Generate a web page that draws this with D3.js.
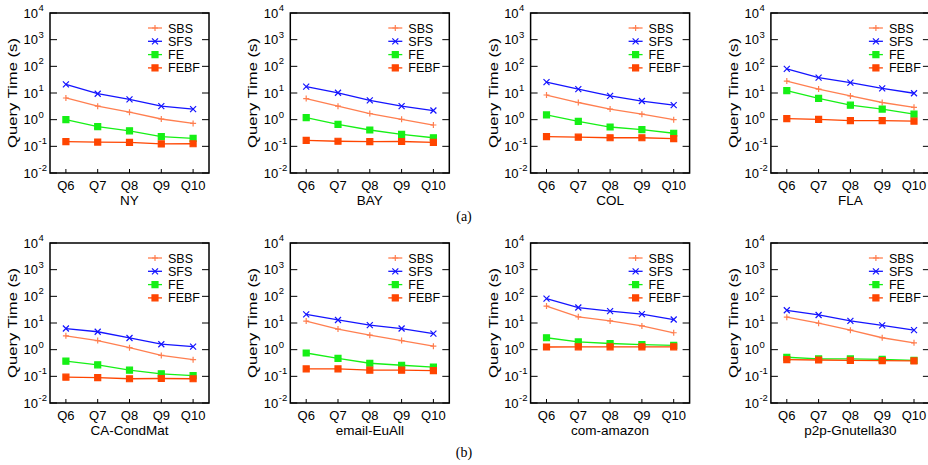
<!DOCTYPE html>
<html>
<head>
<meta charset="utf-8">
<script src="https://cdn.jsdelivr.net/npm/d3@7"></script>
<style>
  body { margin: 0; background: #fff; }
  svg { display: block; font-family: "Liberation Sans", Arial, sans-serif; }
</style>
</head>
<body>
<div id="chart"></div>
<script>
const categories = ["Q6", "Q7", "Q8", "Q9", "Q10"];
const datasets = ["NY", "BAY", "COL", "FLA", "CA-CondMat", "email-EuAll", "com-amazon", "p2p-Gnutella30"];
const seriesNames = ["SBS", "SFS", "FE", "FEBF"];
const yTicks = [-2, -1, 0, 1, 2, 3, 4];

// query time (s) per dataset, one array per method
const sbsTimes = [
  [6.5, 3.2, 1.9, 1.06, 0.72],
  [6.2, 3.2, 1.7, 1.03, 0.63],
  [8.4, 4.4, 2.5, 1.6, 1.0],
  [28, 14, 7.8, 4.4, 2.9],
  [3.3, 2.2, 1.19, 0.61, 0.42],
  [11.8, 5.9, 3.5, 2.2, 1.35],
  [43, 17, 12, 7.8, 4.3],
  [16.6, 9.8, 5.4, 2.8, 1.8],
];
const sfsTimes = [
  [21, 9.4, 5.8, 3.2, 2.5],
  [17.4, 10.2, 5.3, 3.2, 2.2],
  [25.7, 14, 7.8, 5.0, 3.5],
  [80, 37.6, 24.5, 15, 9.8],
  [6.2, 4.7, 2.75, 1.6, 1.3],
  [21, 13, 8.3, 6.2, 4.0],
  [82, 38, 28, 21.5, 13.5],
  [30, 20, 12, 8.1, 5.4],
];
const feTimes = [
  [1.0, 0.55, 0.38, 0.23, 0.2],
  [1.2, 0.67, 0.41, 0.28, 0.21],
  [1.5, 0.87, 0.53, 0.42, 0.31],
  [12.3, 6.3, 3.5, 2.5, 1.6],
  [0.37, 0.27, 0.17, 0.124, 0.107],
  [0.75, 0.47, 0.31, 0.26, 0.22],
  [2.8, 1.95, 1.7, 1.55, 1.45],
  [0.52, 0.45, 0.45, 0.43, 0.4],
];
const febfTimes = [
  [0.15, 0.145, 0.14, 0.123, 0.125],
  [0.168, 0.155, 0.15, 0.152, 0.14],
  [0.23, 0.22, 0.21, 0.21, 0.195],
  [1.1, 1.03, 0.92, 0.92, 0.88],
  [0.093, 0.09, 0.081, 0.083, 0.081],
  [0.19, 0.19, 0.17, 0.17, 0.165],
  [1.26, 1.28, 1.28, 1.28, 1.28],
  [0.42, 0.41, 0.4, 0.39, 0.38],
];
const seriesTimes = [sbsTimes, sfsTimes, feTimes, febfTimes];

const colors = ["#ff7f50", "#1414ff", "#16f016", "#ff4500"];

// marker shapes in gnuplot style: plus, cross, star, filled square
const markerPath = (i) => {
  const s = 3;
  if (i === 0) return `M${-s},0H${s}M0,${-s}V${s}`;
  if (i === 1) return `M${-s},${-s}L${s},${s}M${-s},${s}L${s},${-s}`;
  if (i === 2)
    return `M${-s},0H${s}M0,${-s}V${s}M${-s},${-s}L${s},${s}M${-s},${s}L${s},${-s}M${-s},${-s}H${s}V${s}H${-s}Z`;
  return `M${-s},${-s}H${s}V${s}H${-s}Z`;
};

const width = 928;
const height = 465;
const plotW = 159;
const plotH = 160;
const panelLeft = (col) => 50 + col * 240.3;
const panelTop = [13, 243];

const svg = d3
  .select("#chart")
  .append("svg")
  .attr("width", width)
  .attr("height", height);

const x = d3.scalePoint().domain(categories).range([0, plotW]).padding(0.5);
const y = d3.scaleLog().domain([0.01, 10000]).range([plotH, 0]);

const drawPanel = (idx) => {
  const row = Math.floor(idx / 4);
  const col = idx % 4;
  const g = svg
    .append("g")
    .attr("transform", `translate(${panelLeft(col)},${panelTop[row]})`);

  // y ticks on both sides, pointing inward
  yTicks.forEach((e) => {
    const yy = y(Math.pow(10, e));
    g.append("line")
      .attr("x1", 0).attr("x2", 7)
      .attr("y1", yy).attr("y2", yy)
      .attr("stroke", "#000");
    g.append("line")
      .attr("x1", plotW - 7).attr("x2", plotW)
      .attr("y1", yy).attr("y2", yy)
      .attr("stroke", "#000");
    g.append("text")
      .attr("x", -12)
      .attr("y", yy + 4.5)
      .attr("text-anchor", "end")
      .attr("font-size", 13)
      .text("10");
    g.append("text")
      .attr("x", -11.5)
      .attr("y", yy - 2)
      .attr("font-size", 9.5)
      .text(e);
  });

  // x ticks and labels
  categories.forEach((c) => {
    g.append("line")
      .attr("x1", x(c)).attr("x2", x(c))
      .attr("y1", plotH).attr("y2", plotH - 4)
      .attr("stroke", "#000");
    g.append("text")
      .attr("x", x(c))
      .attr("y", plotH + 17)
      .attr("text-anchor", "middle")
      .attr("font-size", 13)
      .text(c);
  });

  g.append("text")
    .attr("x", plotW / 2)
    .attr("y", plotH + 32)
    .attr("text-anchor", "middle")
    .attr("font-size", 13.5)
    .text(datasets[idx]);

  g.append("text")
    .attr("transform", `translate(-33,${plotH / 2}) rotate(-90)`)
    .attr("text-anchor", "middle")
    .attr("font-size", 13)
    .attr("textLength", 110)
    .attr("lengthAdjust", "spacingAndGlyphs")
    .text("Query Time (s)");

  // legend
  seriesNames.forEach((name, i) => {
    const ly = 15 + i * 13.3;
    g.append("line")
      .attr("x1", 98).attr("x2", 112)
      .attr("y1", ly).attr("y2", ly)
      .attr("stroke", colors[i])
      .attr("stroke-width", 1.3);
    g.append("path")
      .attr("d", markerPath(i))
      .attr("transform", `translate(105,${ly})`)
      .attr("stroke", colors[i])
      .attr("stroke-width", 1.2)
      .attr("fill", i >= 2 ? colors[i] : "none");
    g.append("text")
      .attr("x", 118)
      .attr("y", ly + 4.5)
      .attr("font-size", 12.5)
      .text(name);
  });

  // series lines and markers
  const line = d3
    .line()
    .x((d, j) => x(categories[j]))
    .y((d) => y(d));

  seriesTimes.forEach((times, i) => {
    const values = times[idx];
    g.append("path")
      .datum(values)
      .attr("d", line)
      .attr("fill", "none")
      .attr("stroke", colors[i])
      .attr("stroke-width", 1.3);
    g.selectAll(`.m${i}`)
      .data(values)
      .enter()
      .append("path")
      .attr("class", `m${i}`)
      .attr("d", markerPath(i))
      .attr("transform", (d, j) => `translate(${x(categories[j])},${y(d)})`)
      .attr("stroke", colors[i])
      .attr("stroke-width", 1.2)
      .attr("fill", i >= 2 ? colors[i] : "none");
  });

  // frame
  g.append("rect")
    .attr("width", plotW)
    .attr("height", plotH)
    .attr("fill", "none")
    .attr("stroke", "#000")
    .attr("stroke-width", 1.5);
};

datasets.forEach((d, i) => drawPanel(i));

// sub-figure captions
[["(a)", 221], ["(b)", 457]].forEach(([label, yy]) => {
  svg
    .append("text")
    .attr("x", 464)
    .attr("y", yy)
    .attr("text-anchor", "middle")
    .attr("font-family", "'Liberation Serif', 'Times New Roman', serif")
    .attr("font-size", 14)
    .text(label);
});
</script>
</body>
</html>
